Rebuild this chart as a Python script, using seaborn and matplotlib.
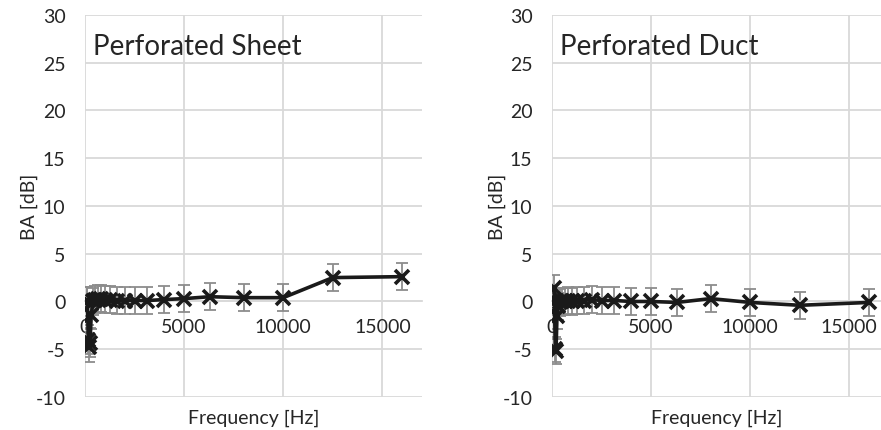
import matplotlib
matplotlib.use("Agg")
import matplotlib.pyplot as plt
import seaborn as sns
import pandas as pd
import numpy as np

freq = [100, 125, 160, 200, 250, 315, 400, 500, 630, 800, 1000, 1250, 1600,
        2000, 2500, 3150, 4000, 5000, 6300, 8000, 10000, 12500, 16000]

sheet_ba = [0.0, 0.0, -4.0, -4.8, -4.3, -1.4, 0.0, 0.2, 0.3, 0.3, 0.2, 0.2, 0.1,
            0.1, 0.1, 0.1, 0.2, 0.3, 0.5, 0.4, 0.4, 2.5, 2.6]
sheet_err = [1.5, 1.5, 1.5, 1.5, 1.5, 1.5, 1.4, 1.4, 1.4, 1.4, 1.4, 1.4, 1.4,
             1.4, 1.4, 1.4, 1.4, 1.4, 1.4, 1.4, 1.4, 1.4, 1.4]

duct_ba = [1.4, 0.0, -5.0, -5.2, -1.5, -0.5, -0.1, 0.0, 0.0, 0.1, 0.0, 0.1, 0.1,
           0.2, 0.1, 0.1, 0.0, 0.0, -0.1, 0.3, -0.1, -0.4, -0.1]
duct_err = [1.4, 1.4, 1.3, 1.3, 1.4, 1.4, 1.4, 1.4, 1.4, 1.4, 1.4, 1.4, 1.4,
            1.4, 1.4, 1.4, 1.4, 1.4, 1.4, 1.4, 1.4, 1.4, 1.4]

titles = ["Perforated Sheet", "Perforated Duct"]
xticks = [0, 5000, 10000, 15000]
yticks = [-10, -5, 0, 5, 10, 15, 20, 25, 30]

sns.set_theme(style="white")
plt.rcParams['font.family'] = ['Lato', 'DejaVu Sans']
plt.rcParams['axes.unicode_minus'] = False

fig = plt.figure(figsize=(8.81, 4.31), dpi=100)
axes = [fig.add_axes([0.0965, 0.0766, 0.3825, 0.8864]),
        fig.add_axes([0.6266, 0.0766, 0.3734, 0.8864])]
xmaxs = [17000, 16600]
ylab_x = [-0.14, -0.14]
grid_c = "#d9d9d9"
text_c = "#262626"
fs = 14

for ax, title, vals, errs, xmax, ylx in zip(axes, titles, [sheet_ba, duct_ba],
                                            [sheet_err, duct_err], xmaxs, ylab_x):
    df = pd.DataFrame({"Frequency": freq, "BA": vals})
    ax.errorbar(freq, vals, yerr=errs, fmt="none", ecolor="#8c8c8c",
                elinewidth=1.3, capsize=4, capthick=1.3, zorder=2)
    sns.lineplot(data=df, x="Frequency", y="BA", ax=ax, color="#1a1a1a",
                 linewidth=2.6, marker="x", markersize=10, markeredgewidth=2.6,
                 markeredgecolor="#1a1a1a", zorder=3)
    ax.set_xlim(0, xmax)
    ax.set_ylim(-10, 30)
    ax.set_xticks(xticks)
    ax.set_yticks(yticks)
    ax.grid(True, color=grid_c, linewidth=1.3)
    ax.set_axisbelow(True)
    for s in ["top", "right", "left"]:
        ax.spines[s].set_visible(False)
    ax.spines["bottom"].set_position(("data", 0))
    ax.spines["bottom"].set_color(grid_c)
    ax.spines["bottom"].set_linewidth(1.3)
    ax.tick_params(axis="both", length=0, labelsize=fs, labelcolor=text_c)
    ax.tick_params(axis="x", pad=12)
    ax.tick_params(axis="y", pad=14)
    ax.set_xlabel("Frequency [Hz]", fontsize=fs, color=text_c)
    ax.xaxis.set_label_coords(0.5, -0.03)
    ax.set_ylabel("BA [dB]", fontsize=fs, color=text_c)
    ax.yaxis.set_label_coords(ylx, 0.5)
    ax.text(0.025, 0.92, title, transform=ax.transAxes, fontsize=20,
            color=text_c, va="center", ha="left")

fig.savefig("out.png", dpi=100)
